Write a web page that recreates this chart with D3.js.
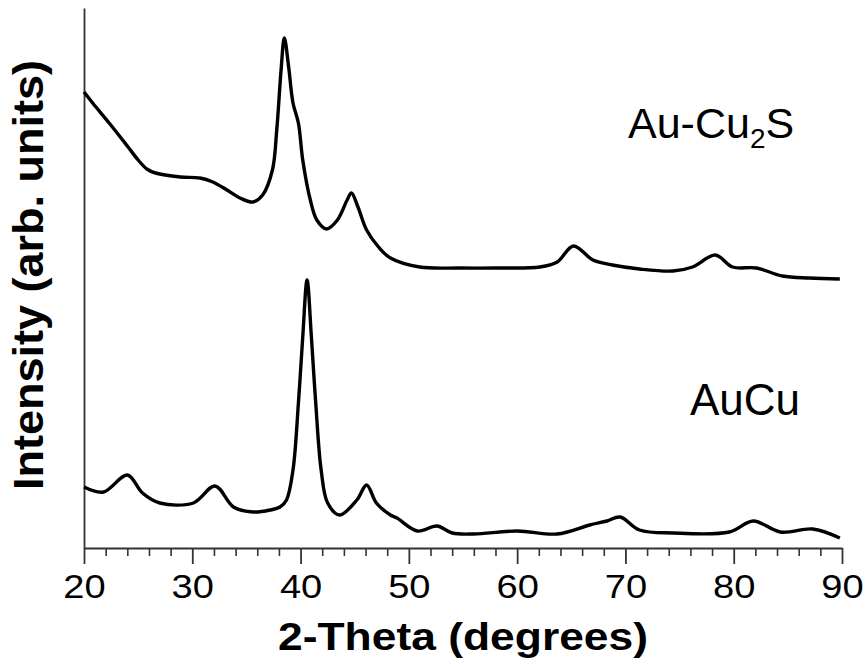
<!DOCTYPE html>
<html>
<head>
<meta charset="utf-8">
<script src="https://cdn.jsdelivr.net/npm/d3@7"></script>
<style>
  body { margin: 0; background: #fff; }
  text { font-family: "Liberation Sans", Arial, sans-serif; fill: #000; }
</style>
</head>
<body>
<div id="chart"></div>
<script>
// two-theta positions and intensities (arb. units)
var cu2sTheta = [20.0, 20.8, 22.4, 24.0, 25.0, 25.8, 26.6, 28.9, 30.7, 31.9, 33.2, 34.4, 35.6, 36.5, 37.4, 37.8, 38.2, 38.5, 38.9, 39.3, 39.8, 40.2, 40.9, 41.5, 42.4, 43.4, 44.3, 44.7, 45.3, 46.1, 47.2, 48.3, 51.0, 54.7, 58.0, 62.1, 63.7, 65.2, 67.0, 68.8, 71.3, 74.4, 76.2, 78.3, 79.9, 82.1, 84.5, 87.0, 89.8];
var cu2sInt   = [456, 445, 424, 402, 388, 379, 375, 371, 370, 366, 358, 350, 346, 353, 378, 418, 478, 510, 481, 445, 425, 388, 348, 328, 319, 328, 348, 355, 341, 318, 301, 290, 281, 280, 280, 281, 286, 302, 288, 283, 279, 277, 281, 293, 281, 280, 272, 270, 269];

var aucuTheta = [20.0, 21.8, 24.0, 25.4, 27.0, 30.1, 32.1, 33.8, 35.6, 37.2, 38.1, 38.7, 39.3, 39.8, 40.2, 40.6, 41.0, 41.4, 41.9, 42.5, 43.6, 45.2, 46.1, 47.0, 48.3, 48.9, 50.8, 52.6, 54.0, 56.0, 60.0, 63.7, 66.7, 68.3, 69.5, 71.3, 74.4, 79.6, 81.8, 84.3, 87.3, 89.8];
var aucuInt   = [61, 56, 73, 55, 45, 45, 62, 41, 36, 38, 41, 48, 78, 145, 211, 268, 211, 145, 78, 45, 33, 48, 63, 45, 33, 30, 17, 22, 15, 14, 17, 14, 23, 27, 31, 18, 15, 16, 27, 16, 19, 10];

var majorTicks = [20, 30, 40, 50, 60, 70, 80, 90];
var minorTicks = [22, 24, 26, 28, 32, 34, 36, 38, 42, 44, 46, 48, 52, 54, 56, 58, 62, 64, 66, 68, 72, 74, 76, 78, 82, 84, 86, 88];

var W = 867, H = 665;
var svg = d3.select("#chart").append("svg")
  .attr("width", W)
  .attr("height", H);

var x = d3.scaleLinear().domain([20, 90]).range([84, 842]);
var y = d3.scaleLinear().domain([0, 540]).range([548, 8]);

// minor ticks
svg.append("g")
  .attr("transform", "translate(0,548)")
  .call(d3.axisBottom(x).tickValues(minorTicks).tickSize(8).tickSizeOuter(0).tickFormat(""))
  .call(g => g.select(".domain").remove())
  .call(g => g.selectAll("line").attr("stroke", "#333").attr("stroke-width", 1.6));

// major ticks + labels
var xAx = svg.append("g")
  .attr("transform", "translate(0,548)")
  .call(d3.axisBottom(x).tickValues(majorTicks).tickSize(16).tickSizeOuter(0).tickFormat(d3.format("d")));
xAx.select(".domain").attr("stroke", "#333").attr("stroke-width", 1.8);
xAx.selectAll("line").attr("stroke", "#333").attr("stroke-width", 1.8);
xAx.selectAll("text")
  .attr("font-size", 34)
  .attr("font-family", "Liberation Sans, Arial, sans-serif")
  .attr("fill", "#000")
  .attr("transform", "scale(1.12,1)")
  .attr("y", 50)
  .attr("dy", 0);

// y axis: just the line
var yAx = svg.append("g")
  .attr("transform", "translate(84,0)")
  .call(d3.axisLeft(y).tickValues([]).tickSizeOuter(0));
yAx.select(".domain").attr("stroke", "#333").attr("stroke-width", 1.8);

// curves
var line = d3.line()
  .x(function(d) { return x(d[0]); })
  .y(function(d) { return y(d[1]); })
  .curve(d3.curveCatmullRom.alpha(0.5));

var series = [
  d3.zip(cu2sTheta, cu2sInt),
  d3.zip(aucuTheta, aucuInt)
];

svg.selectAll(".trace")
  .data(series)
  .enter().append("path")
  .attr("class", "trace")
  .attr("d", line)
  .attr("fill", "none")
  .attr("stroke", "#000")
  .attr("stroke-width", 3.4)
  .attr("stroke-linejoin", "round");

// sample labels
var lab1 = svg.append("text")
  .attr("x", 628)
  .attr("y", 138)
  .attr("font-size", 43);
lab1.append("tspan").text("Au-Cu");
lab1.append("tspan").attr("font-size", 28).attr("dy", 10).text("2");
lab1.append("tspan").attr("dy", -10).text("S");

svg.append("text")
  .attr("x", 690)
  .attr("y", 415)
  .attr("font-size", 44)
  .text("AuCu");

// axis titles
svg.append("text")
  .attr("x", 463)
  .attr("y", 650)
  .attr("text-anchor", "middle")
  .attr("font-size", 38)
  .attr("font-weight", "bold")
  .attr("textLength", 370)
  .attr("lengthAdjust", "spacingAndGlyphs")
  .text("2-Theta (degrees)");

svg.append("text")
  .attr("transform", "translate(43,275) rotate(-90)")
  .attr("text-anchor", "middle")
  .attr("font-size", 43)
  .attr("font-weight", "bold")
  .attr("textLength", 430)
  .attr("lengthAdjust", "spacingAndGlyphs")
  .text("Intensity (arb. units)");
</script>
</body>
</html>
